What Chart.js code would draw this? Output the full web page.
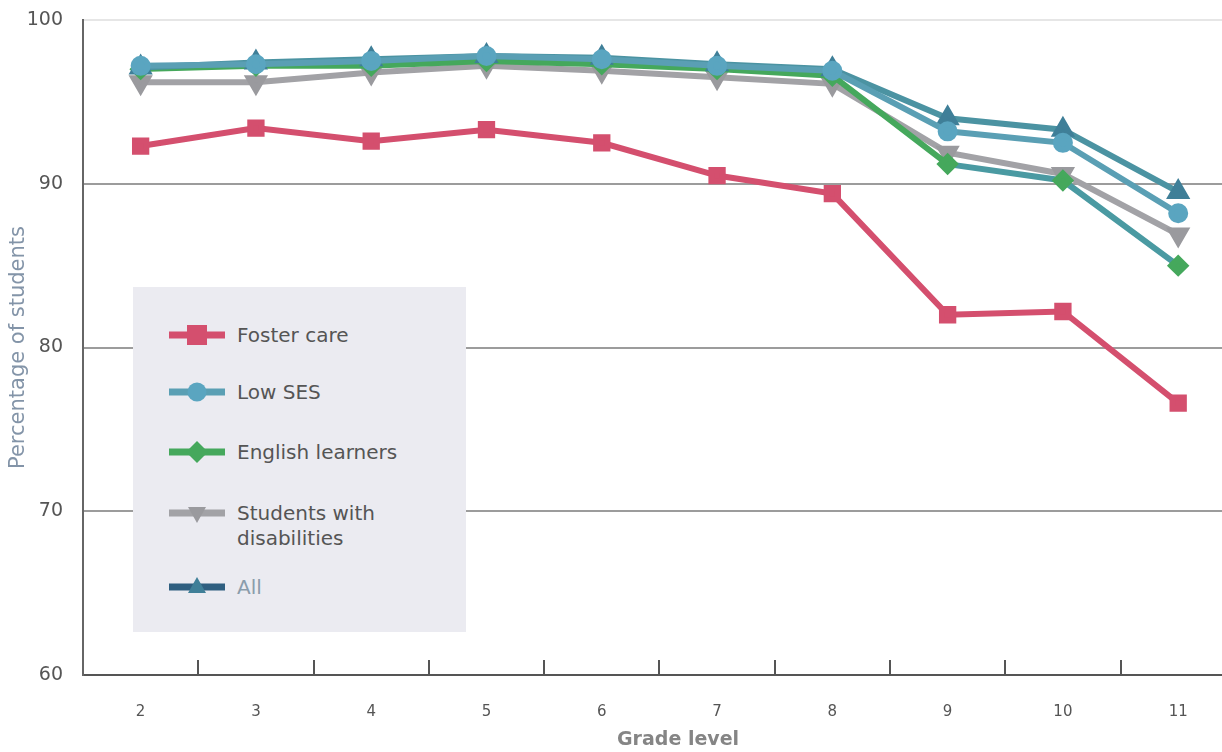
<!DOCTYPE html>
<html>
<head>
<meta charset="utf-8">
<script src="https://cdn.jsdelivr.net/npm/chart.js@4.4.1/dist/chart.umd.min.js"></script>
<style>
  html, body { margin: 0; padding: 0; background: #fff; overflow: hidden; }
  #wrap { position: relative; width: 1222px; height: 752px; }
  #chart { display: block; }
  #legend {
    position: absolute; left: 133px; top: 287px; width: 333px; height: 345px;
    background: #ebebf1; font-family: "DejaVu Sans", sans-serif; font-size: 20px; color: #555;
  }
  .item { position: absolute; left: 36px; display: flex; align-items: flex-start; }
  .item svg { flex: none; margin-right: 12px; }
  .item span { line-height: 25px; }
  #xtitle {
    position: absolute; left: 617px; top: 727px; font-family: "DejaVu Sans", sans-serif;
    font-size: 19px; font-weight: bold; color: #858585;
  }
</style>
</head>
<body>
<div id="wrap">
  <canvas id="chart" width="1222" height="752"></canvas>
  <div id="legend"></div>
  <div id="xtitle">Grade level</div>
</div>
<script>
const grades = [2, 3, 4, 5, 6, 7, 8, 9, 10, 11];
const fosterCare = [92.3, 93.4, 92.6, 93.3, 92.5, 90.5, 89.4, 82.0, 82.2, 76.6];
const lowSES = [97.2, 97.3, 97.5, 97.8, 97.6, 97.2, 96.9, 93.2, 92.5, 88.2];
const englishLearners = [97.0, 97.2, 97.2, 97.5, 97.3, 97.0, 96.6, 91.2, 90.2, 85.0];
const disabilities = [96.2, 96.2, 96.8, 97.2, 96.9, 96.5, 96.1, 91.9, 90.6, 86.9];
const allStudents = [97.1, 97.4, 97.6, 97.8, 97.7, 97.3, 97.0, 94.0, 93.3, 89.5];
const yTicks = [60, 70, 80, 90, 100];

const series = [
  { label: "Foster care", data: fosterCare, color: "#d44f6e", point: "#d44f6e", style: "rect", r: 8, order: 5 },
  { label: "Low SES", data: lowSES, color: "#5a9fb4", point: "#5aa5c0", style: "circle", r: 7, order: 1 },
  { label: "English learners", data: englishLearners, color: "#45a85c", point: "#45a85c", style: "rectRot", r: 7, order: 3 },
  { label: "Students with\ndisabilities", data: disabilities, color: "#a2a2a6", point: "#9a9a9e", style: "triangle", r: 8, rot: 180, order: 4 },
  { label: "All", data: allStudents, color: "#4b93a2", point: "#3f7f98", style: "triangle", r: 8, order: 2 }
];

// short upward ticks halfway between grades on the x axis
const innerTicks = {
  id: "innerTicks",
  afterDraw(chart) {
    const x = chart.scales.x, ctx = chart.ctx;
    ctx.save();
    ctx.strokeStyle = "#555";
    ctx.lineWidth = 2;
    for (let i = 0; i < grades.length - 1; i++) {
      const px = Math.round(x.getPixelForValue(grades[i] + 0.5));
      ctx.beginPath();
      ctx.moveTo(px, x.top - 15);
      ctx.lineTo(px, x.top);
      ctx.stroke();
    }
    ctx.restore();
  }
};

new Chart(document.getElementById("chart"), {
  type: "line",
  data: {
    datasets: series.map(s => ({
      label: s.label,
      data: s.data.map((v, i) => ({ x: grades[i], y: v })),
      order: s.order,
      borderColor: s.color,
      backgroundColor: s.point,
      pointBorderColor: s.point,
      pointBackgroundColor: s.point,
      borderWidth: 6,
      pointStyle: s.style,
      pointRadius: s.r,
      pointRotation: s.rot || 0,
      tension: 0,
      clip: false,
      segment: s.label === "English learners"
        ? { borderColor: c => (c.p0DataIndex >= 7 ? "#4a9aa2" : undefined) }
        : undefined
    }))
  },
  plugins: [innerTicks],
  options: {
    responsive: false,
    animation: false,
    layout: { autoPadding: false, padding: { top: 20, right: 0, left: 0, bottom: 0 } },
    plugins: { legend: { display: false }, tooltip: { enabled: false } },
    scales: {
      x: {
        type: "linear",
        // half a column before grade 2; the grade 11 column runs off the right edge
        min: 1.5, max: 11.38,
        afterBuildTicks(scale) { scale.ticks = grades.map(v => ({ value: v })); },
        grid: { display: false },
        border: { color: "#555", width: 2 },
        ticks: { color: "#555", font: { family: "DejaVu Sans", size: 15 }, padding: 20 },
        afterFit(scale) {
          scale.height = 77;
          scale.paddingLeft = 0;
          scale.paddingRight = 0;
        }
      },
      y: {
        min: 60, max: 100,
        afterBuildTicks(scale) { scale.ticks = yTicks.map(v => ({ value: v })); },
        grid: {
          drawTicks: false,
          lineWidth: 2,
          color: c => (c.tick.value === 100 ? "#e6e6e6" : c.tick.value === 60 ? "rgba(0,0,0,0)" : "#9c9c9c")
        },
        border: { color: "#666", width: 2 },
        ticks: { color: "#555", font: { family: "DejaVu Sans", size: 19 }, padding: 20 },
        title: {
          display: true, text: "Percentage of students", color: "#8394a8",
          font: { family: "DejaVu Sans", size: 21 }, padding: { top: 6, bottom: 0 }
        },
        afterFit(scale) {
          scale.width = 83;
          scale.paddingTop = 0;
          scale.paddingBottom = 0;
        }
      }
    }
  }
});

// legend panel
const rows = [48, 105, 165, 226, 300];
const legend = document.getElementById("legend");
series.forEach((s, i) => {
  const item = document.createElement("div");
  item.className = "item";
  item.style.top = (rows[i] - 12) + "px";
  let mark;
  if (s.style === "rect") mark = `<rect x="18" y="2" width="20" height="20" fill="${s.point}"/>`;
  else if (s.style === "circle") mark = `<circle cx="28" cy="12" r="9.5" fill="${s.point}"/>`;
  else if (s.style === "rectRot") mark = `<polygon points="28,1 39,12 28,23 17,12" fill="${s.point}"/>`;
  else if (s.rot) mark = `<polygon points="19,6 37,6 28,22" fill="${s.point}"/>`;
  else mark = `<polygon points="28,2 37,18 19,18" fill="${s.point}"/>`;
  const line = s.label === "All" ? "#2f5f80" : s.color;
  item.innerHTML = `<svg width="56" height="24"><line x1="0" y1="12" x2="56" y2="12" stroke="${line}" stroke-width="7"/>${mark}</svg>` +
    `<span style="${s.label === "All" ? "color:#8a9cab" : ""}">${s.label.replace("\n", "<br>")}</span>`;
  legend.appendChild(item);
});
</script>
</body>
</html>
